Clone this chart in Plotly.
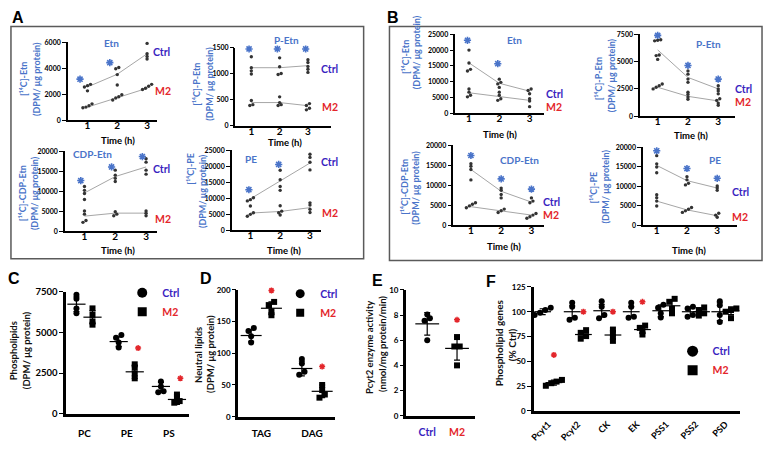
import plotly.graph_objects as go

W, H = 765, 449

# ============================ DATA ============================
TIME = [1, 2, 3]
TIME_LABELS = ["1", "2", "3"]

# ---- Panel A (pulse), one list per time point (1 h, 2 h, 3 h)
A_ETN_CTRL = [[2750, 2650, 2550, 2250], [4050, 3950, 3500, 2700], [5900, 5100, 4900, 4700]]
A_ETN_CTRL_MEAN = [2550, 3530, 5100]
A_ETN_M2 = [[1250, 1100, 1000, 950], [1950, 1800, 1700, 1550], [2750, 2600, 2450, 2350]]
A_ETN_M2_MEAN = [1000, 1750, 2450]
A_ETN_STAR = [3150, 4420, 6370]
A_ETN_TICKS = [0, 2000, 4000, 6000]

A_PETN_CTRL = [[1330, 1120, 1060, 1000], [1310, 1140, 1010, 990], [1275, 1220, 1145, 1090, 1030]]
A_PETN_CTRL_MEAN = [1120, 1120, 1160]
A_PETN_M2 = [[490, 410, 395], [560, 450, 410, 395], [430, 395, 340, 310]]
A_PETN_M2_MEAN = [450, 450, 390]
A_PETN_STAR = [1480, 1480, 1480]
A_PETN_TICKS = [0, 500, 1000, 1500]

A_CDP_CTRL = [[11200, 10250, 9450, 7950], [15300, 14050, 13250, 12450], [18150, 17300, 15300, 14300]]
A_CDP_CTRL_MEAN = [9600, 13700, 16100]
A_CDP_M2 = [[5100, 4300, 2700, 2250], [4900, 4300, 3900], [5100, 4550, 3900]]
A_CDP_M2_MEAN = [3800, 4550, 4550]
A_CDP_STAR = [12700, 16100, 18700]
A_CDP_TICKS = [0, 5000, 10000, 15000, 20000]

A_PE_CTRL = [[10200, 9600, 9200, 7600], [18800, 15800, 13700, 12500], [23800, 22800, 21300, 18900]]
A_PE_CTRL_MEAN = [9850, 15550, 21050]
A_PE_M2 = [[5500, 5000, 4400], [7700, 6000, 5500, 4800], [8600, 7900, 6600, 5600]]
A_PE_M2_MEAN = [5400, 5900, 7100]
A_PE_STAR = [12700, 20600, 25100]
A_PE_TICKS = [0, 5000, 10000, 15000, 20000, 25000]

# ---- Panel B (chase)
B_ETN_CTRL = [[20000, 15900, 13900, 13400], [10800, 9800, 9300, 8200], [7700, 7200, 6200]]
B_ETN_CTRL_MEAN = [15950, 9500, 7000]
B_ETN_M2 = [[7700, 6700, 5700, 5200], [6700, 5700, 4600, 4100], [4600, 3900, 2100]]
B_ETN_M2_MEAN = [6500, 5350, 4100]
B_ETN_STAR = [23100, 15700, None]
B_ETN_TICKS = [0, 5000, 10000, 15000, 20000, 25000]

B_PETN_CTRL = [[7000, 6950, 6900, 5600, 5550, 5200], [4150, 3850, 3400, 3100], [2800, 2500, 2300, 2050]]
B_PETN_CTRL_MEAN = [6070, 3550, 2500]
B_PETN_M2 = [[2950, 2800, 2650, 2500], [2200, 2000, 1750, 1550], [1600, 1450, 1200, 1000]]
B_PETN_M2_MEAN = [2650, 1820, 1400]
B_PETN_STAR = [7400, 4650, 3400]
B_PETN_TICKS = [0, 2500, 5000, 7500]

B_CDP_CTRL = [[15450, 14800, 14000, 11400], [9350, 8800, 7750, 6900], [6900, 6100, 5700]]
B_CDP_CTRL_MEAN = [14000, 8550, 5850]
B_CDP_M2 = [[5700, 5300, 4900, 4450], [4100, 3700, 3250], [3000, 2600, 2200, 1800]]
B_CDP_M2_MEAN = [4700, 3600, 2600]
B_CDP_STAR = [17500, 11650, 9100]
B_CDP_TICKS = [0, 5000, 10000, 15000, 20000]

B_PE_CTRL = [[17900, 15800, 15000, 13500], [12500, 11700, 10800, 10400], [10150, 9600, 9000]]
B_PE_CTRL_MEAN = [15400, 11500, 9600]
B_PE_M2 = [[7900, 7100, 6250, 5000], [4600, 4150, 3750, 3350], [3150, 2650, 2100]]
B_PE_M2_MEAN = [6250, 4000, 2500]
B_PE_STAR = [19150, 14600, 12100]
B_PE_TICKS = [0, 5000, 10000, 15000, 20000]

# ---- Panel C (phospholipids)
C_CATS = ["PC", "PE", "PS"]
C_CTRL = [[7320, 7080, 6480, 6180], [4840, 4680, 4380, 4080], [1980, 1680, 1380, 1320]]
C_CTRL_MEAN = [6740, 4440, 1680]
C_CTRL_SD = [450, 290, 250]
C_M2 = [[6480, 6080, 5680, 5480], [3040, 2840, 2480, 2180], [1180, 980, 780, 680]]
C_M2_MEAN = [5940, 2580, 880]
C_M2_SD = [400, 400, 300]
C_STAR = [None, 4040, 2180]
C_TICKS = [0, 2500, 5000, 7500]

# ---- Panel D (neutral lipids)
D_CATS = ["TAG", "DAG"]
D_CTRL = [[140, 135, 127, 117], [91, 84, 71, 66]]
D_CTRL_MEAN = [128, 76]
D_CTRL_SD = [9, 11.5]
D_M2 = [[181, 176, 166, 160], [50, 42, 35, 30]]
D_M2_MEAN = [171, 40]
D_M2_SD = [10, 10]
D_STAR = [199, 79]
D_TICKS = [0, 50, 100, 150, 200]

# ---- Panel E (Pcyt2 activity)
E_CATS = ["Ctrl", "M2"]
E_VALUES = [[8.05, 7.75, 7.55, 6.0], [6.25, 5.5, 5.5, 4.0]]
E_MEAN = [7.3, 5.35]
E_SD = [0.9, 0.93]
E_STAR = [None, 7.62]
E_TICKS = [0, 2, 4, 6, 8, 10]

# ---- Panel F (phospholipid genes, % Ctrl)
F_CATS = ["Pcyt1", "Pcyt2", "CK", "EK", "PSS1", "PSS2", "PSD"]
F_CTRL = [[104, 101.7, 99, 96.7], [109, 105, 94, 92], [110.5, 105, 96.7, 93.5], [109, 105, 95, 94],
          [107, 104, 98.4, 94.2], [105, 103.3, 96.7, 95], [110.5, 106.6, 96.7, 89.6]]
F_CTRL_MEAN = [100, 100, 101, 100, 101, 100, 100]
F_CTRL_SD = [3, 6, 6.5, 5, 6, 4.5, 9]
F_M2 = [[31.2, 29.5, 27.9, 25.3], [81.4, 78.7, 75.4, 72.8], [82, 78, 74.5, 70.6], [86, 83.7, 80.4, 77],
        [113, 110, 103, 98.4], [104.3, 101.7, 98.4, 96.1], [103.3, 101.7, 100, 93.5]]
F_M2_MEAN = [28.5, 77, 76.5, 82, 106, 100, 101]
F_M2_SD = [2.5, 3.5, 4.5, 3.5, 6, 3.5, 4]
F_STAR = [56.4, 100, 100, 110, None, None, None]
F_TICKS = [0, 25, 50, 75, 100, 125]

# ============================ STYLE ============================
FONT = "Lato"
LETTER_FONT = "Liberation Sans"
BLUE = "#4a74c9"
CTRL_COL = "#3a1fc0"
M2_COL = "#e3262b"
BOX_COL = "#5a5a5a"
LABEL14 = "[\u00b9\u2074C]-"


def px(x):
    return x / W


def py(y):
    return 1 - y / H


def dodge(vals, px_per_unit, size, thr=0.7, step=0.8):
    order = sorted(range(len(vals)), key=lambda i: vals[i])
    offs = [0.0] * len(vals)
    clusters = []
    for i in order:
        if clusters and (vals[i] - vals[clusters[-1][-1]]) * px_per_unit < size * thr:
            clusters[-1].append(i)
        else:
            clusters.append([i])
    for c in clusters:
        n = len(c)
        for j, i in enumerate(c):
            offs[i] = (j - (n - 1) / 2) * size * step
    return offs


fig = go.Figure()
layout = dict(width=W, height=H, margin=dict(l=0, r=0, t=0, b=0), paper_bgcolor="white",
              plot_bgcolor="white", showlegend=True, annotations=[], shapes=[])


def ann(text, x, y, size=10, color="black", angle=0, bold=True, family=FONT):
    layout["annotations"].append(dict(
        text=text, x=px(x), y=py(y), xref="paper", yref="paper", showarrow=False,
        xanchor="center", yanchor="middle", textangle=angle,
        font=dict(size=size, color=color, family=family, weight="bold" if bold else "normal")))


def axes(n, x0, x1, ytop, ybot, xr, yr, yticks, xtickvals, xticktext, lw, ytick_size, xtick_size,
         xticks="outside", xangle=0, xstandoff=None):
    sfx = "" if n == 1 else str(n)
    xa = dict(domain=[px(x0), px(x1)], range=xr, anchor="y" + sfx, showline=True, linecolor="black",
              linewidth=lw, showgrid=False, zeroline=False, ticks=xticks, ticklen=2, tickwidth=1.2,
              tickcolor="black", tickvals=xtickvals, ticktext=xticktext, tickangle=xangle,
              tickfont=dict(family=FONT, size=xtick_size, color="black", weight="bold"), fixedrange=True)
    if xstandoff is not None:
        xa["ticklabelstandoff"] = xstandoff
    ya = dict(domain=[py(ybot), py(ytop)], range=yr, anchor="x" + sfx, showline=True, linecolor="black",
              linewidth=lw, showgrid=False, zeroline=False, ticks="outside", ticklen=3.5, tickwidth=1.2,
              tickcolor="black", tickvals=yticks, ticktext=[str(v) for v in yticks],
              tickfont=dict(family=FONT, size=ytick_size, color="black", weight="bold"), fixedrange=True)
    layout["xaxis" + sfx] = xa
    layout["yaxis" + sfx] = ya
    return "x" + sfx, "y" + sfx


# ---------------- pulse / chase panels (A, B) ----------------
pulse_panels = [
    dict(n=1, title="Etn", lab=LABEL14 + "Etn", c=A_ETN_CTRL, cm=A_ETN_CTRL_MEAN, m=A_ETN_M2,
         mm=A_ETN_M2_MEAN, s=A_ETN_STAR, t=A_ETN_TICKS,
         box=(63, 153, 37, 117), xr=[0.333, 3.333], sdx=-0.25,
         tpos=(107, 38), cpos=(158, 47), mpos=(159, 87), time=(114, 138), l1=(18, 75), l2=(31, 75)),
    dict(n=2, title="P-Etn", lab=LABEL14 + "P-Etn", c=A_PETN_CTRL, cm=A_PETN_CTRL_MEAN, m=A_PETN_M2,
         mm=A_PETN_M2_MEAN, s=A_PETN_STAR, t=A_PETN_TICKS,
         box=(232, 328, 43, 123), xr=[0.44, 3.81], sdx=-0.08,
         tpos=(283, 35), cpos=(327, 65), mpos=(327, 104), time=(282, 140), l1=(192, 80), l2=(205, 80)),
    dict(n=3, title="CDP-Etn", lab=LABEL14 + "CDP-Etn", c=A_CDP_CTRL, cm=A_CDP_CTRL_MEAN, m=A_CDP_M2,
         mm=A_CDP_M2_MEAN, s=A_CDP_STAR, t=A_CDP_TICKS,
         box=(60, 153, 149, 231), xr=[0.355, 3.355], sdx=-0.12,
         tpos=(88, 152), cpos=(158, 167), mpos=(159, 218), time=(114, 251), l1=(17, 192), l2=(29, 192)),
    dict(n=4, title="PE", lab=LABEL14 + "PE", c=A_PE_CTRL, cm=A_PE_CTRL_MEAN, m=A_PE_M2,
         mm=A_PE_M2_MEAN, s=A_PE_STAR, t=A_PE_TICKS,
         box=(228, 318, 148, 230), xr=[0.367, 3.367], sdx=-0.05,
         tpos=(248, 157), cpos=(327, 160), mpos=(327, 212), time=(281, 251), l1=(187, 167), l2=(199, 190)),
    dict(n=5, title="Etn", lab=LABEL14 + "Etn", c=B_ETN_CTRL, cm=B_ETN_CTRL_MEAN, m=B_ETN_M2,
         mm=B_ETN_M2_MEAN, s=B_ETN_STAR, t=B_ETN_TICKS,
         box=(453, 543, 29, 110), xr=[0.54, 3.49], sdx=-0.05,
         tpos=(513, 35), cpos=(553, 90), mpos=(553, 104), time=(498, 132), l1=(403, 52), l2=(415, 47)),
    dict(n=6, title="P-Etn", lab=LABEL14 + "P-Etn", c=B_PETN_CTRL, cm=B_PETN_CTRL_MEAN, m=B_PETN_M2,
         mm=B_PETN_M2_MEAN, s=B_PETN_STAR, t=B_PETN_TICKS,
         box=(639, 735, 29, 113), xr=[0.41, 3.56], sdx=0.0,
         tpos=(708, 39), cpos=(743, 85), mpos=(743, 98), time=(691, 133), l1=(597, 75), l2=(610, 71)),
    dict(n=7, title="CDP-Etn", lab=LABEL14 + "CDP-Etn", c=B_CDP_CTRL, cm=B_CDP_CTRL_MEAN, m=B_CDP_M2,
         mm=B_CDP_M2_MEAN, s=B_CDP_STAR, t=B_CDP_TICKS,
         box=(451, 543, 143, 225), xr=[0.41, 3.43], sdx=0.0,
         tpos=(518, 158), cpos=(550, 201), mpos=(550, 214), time=(502, 247), l1=(402, 185), l2=(413, 186)),
    dict(n=8, title="PE", lab=LABEL14 + "PE", c=B_PE_CTRL, cm=B_PE_CTRL_MEAN, m=B_PE_M2,
         mm=B_PE_M2_MEAN, s=B_PE_STAR, t=B_PE_TICKS,
         box=(642, 737, 145, 225), xr=[0.54, 3.66], sdx=0.0,
         tpos=(715, 158), cpos=(740, 191), mpos=(740, 216), time=(689, 251), l1=(592, 186), l2=(604, 185)),
]

DOT = 3.4
for p in pulse_panels:
    x0, x1, yt, yb = p["box"]
    yr = [0, p["t"][-1]]
    xa, ya = axes(p["n"], x0, x1, yt, yb, p["xr"], yr, p["t"], TIME, TIME_LABELS, 1.8, 7, 10,
                  xticks="", xstandoff=-5)
    upx = (p["xr"][1] - p["xr"][0]) / (x1 - x0)
    ppu = (yb - yt) / (yr[1] - yr[0])
    for grp, mean in ((p["c"], p["cm"]), (p["m"], p["mm"])):
        fig.add_trace(go.Scatter(x=TIME, y=mean, mode="lines", line=dict(color="#a6a6a6", width=1),
                                 xaxis=xa, yaxis=ya, showlegend=False, hoverinfo="skip"))
        xs, ys = [], []
        for t, pts in zip(TIME, grp):
            offs = dodge(pts, ppu, DOT, thr=0.6, step=0.9)
            xs += [t + o * upx for o in offs]
            ys += pts
        fig.add_trace(go.Scatter(x=xs, y=ys, mode="markers", marker=dict(size=DOT, color="#333333"),
                                 xaxis=xa, yaxis=ya, showlegend=False, cliponaxis=False))
    sx = [t + p["sdx"] for t, v in zip(TIME, p["s"]) if v is not None]
    sy = [v for v in p["s"] if v is not None]
    fig.add_trace(go.Scatter(x=sx, y=sy, mode="markers", cliponaxis=False, showlegend=False,
                             marker=dict(symbol="asterisk-open", size=6, color=BLUE,
                                         line=dict(color=BLUE, width=1.6)),
                             xaxis=xa, yaxis=ya))
    ann(p["title"], *p["tpos"], size=10, color=BLUE)
    ann("Ctrl", *p["cpos"], size=10.5, color=CTRL_COL)
    ann("M2", *p["mpos"], size=10.5, color=M2_COL)
    ann("Time (h)", *p["time"], size=9.5)
    ann(p["lab"], *p["l1"], size=9, color=BLUE, angle=-90)
    ann("(DPM/ \u03bcg protein)", *p["l2"], size=9, color=BLUE, angle=-90)

# panel frames
layout["shapes"].append(dict(type="rect", xref="paper", yref="paper", x0=px(6), x1=px(361), y0=py(259),
                             y1=py(21), line=dict(color=BOX_COL, width=1.5)))
layout["shapes"].append(dict(type="rect", xref="paper", yref="paper", x0=px(387), x1=px(762), y0=py(261),
                             y1=py(21), line=dict(color=BOX_COL, width=1.5)))

# ---------------- scatter + mean/SD panels (C-F) ----------------
PT = 6


def group_traces(xa, ya, centers, vals, means, sds, symbol, upx, ppu, barw):
    xs, ys = [], []
    for c, pts in zip(centers, vals):
        offs = dodge(pts, ppu, PT, thr=0.55, step=0.9)
        xs += [c + o * upx for o in offs]
        ys += pts
    fig.add_trace(go.Scatter(x=xs, y=ys, mode="markers", marker=dict(symbol=symbol, size=PT, color="black"),
                             xaxis=xa, yaxis=ya, showlegend=False, cliponaxis=False))
    fig.add_trace(go.Scatter(x=centers, y=means, mode="markers", showlegend=False, hoverinfo="skip",
                             marker=dict(symbol="line-ew", size=barw, color="black",
                                         line=dict(width=1.2, color="black")),
                             error_y=dict(type="data", array=sds, visible=True, width=3, thickness=1.2,
                                          color="black"),
                             xaxis=xa, yaxis=ya, cliponaxis=False))


def stars(xa, ya, xs, vals):
    sx = [x for x, v in zip(xs, vals) if v is not None]
    sy = [v for v in vals if v is not None]
    fig.add_trace(go.Scatter(x=sx, y=sy, mode="markers", cliponaxis=False, showlegend=False,
                             marker=dict(symbol="asterisk-open", size=5, color=M2_COL,
                                         line=dict(color=M2_COL, width=1.5)),
                             xaxis=xa, yaxis=ya))


def legend_entries(xa, ya, legend_id, size):
    fig.add_trace(go.Scatter(x=[None], y=[None], mode="markers", xaxis=xa, yaxis=ya, legend=legend_id,
                             marker=dict(symbol="circle", size=size, color="black"),
                             name=f"<span style='color:{CTRL_COL}'>Ctrl</span>"))
    fig.add_trace(go.Scatter(x=[None], y=[None], mode="markers", xaxis=xa, yaxis=ya, legend=legend_id,
                             marker=dict(symbol="square", size=size - 1, color="black"),
                             name=f"<span style='color:{M2_COL}'>M2</span>"))


def legend_box(x, y):
    return dict(x=px(x), y=py(y), xanchor="left", yanchor="top", bgcolor="rgba(0,0,0,0)",
                font=dict(family=FONT, size=10.5, weight="bold"), itemsizing="trace", tracegroupgap=0)


# C
cx = [i + 1 for i in range(len(C_CATS))]
xa, ya = axes(9, 61, 185, 293, 418, [0.553, 3.47], [0, C_TICKS[-1]], C_TICKS, cx, C_CATS, 2.5, 9.5, 10,
              xticks="", xstandoff=8)
upx = (3.47 - 0.553) / (185 - 61)
ppu = 125 / C_TICKS[-1]
off = 0.19
group_traces(xa, ya, [c - off for c in cx], C_CTRL, C_CTRL_MEAN, C_CTRL_SD, "circle", upx, ppu, 13)
group_traces(xa, ya, [c + off for c in cx], C_M2, C_M2_MEAN, C_M2_SD, "square", upx, ppu, 13)
stars(xa, ya, [c + off + 0.08 for c in cx], C_STAR)
legend_entries(xa, ya, "legend", 10)
layout["legend"] = legend_box(118, 279)
ann("Phospholipids", 8, 353, size=9.5, color="#111", angle=-90)
ann("(DPM/ \u03bcg protein)", 21, 353, size=9.5, color="#111", angle=-90)

# D
dx = [i + 1 for i in range(len(D_CATS))]
xa, ya = axes(10, 235, 332, 291, 421, [0.55, 2.45], [0, D_TICKS[-1]], D_TICKS, dx, D_CATS, 2.5, 8, 10,
              xticks="", xstandoff=6)
upx = (2.45 - 0.55) / (332 - 235)
ppu = 130 / D_TICKS[-1]
off = 0.2
group_traces(xa, ya, [c - off for c in dx], D_CTRL, D_CTRL_MEAN, D_CTRL_SD, "circle", upx, ppu, 15)
group_traces(xa, ya, [c + off for c in dx], D_M2, D_M2_MEAN, D_M2_SD, "square", upx, ppu, 15)
stars(xa, ya, [c + off for c in dx], D_STAR)
legend_entries(xa, ya, "legend2", 9)
layout["legend2"] = legend_box(277, 280)
ann("Neutral lipids", 194, 358, size=9.5, color="#111", angle=-90)
ann("(DPM/ \u03bcg protein)", 207, 357, size=9.5, color="#111", angle=-90)

# E
ex = [i + 1 for i in range(len(E_CATS))]
etext = [f"<span style='color:{CTRL_COL}'>{E_CATS[0]}</span>", f"<span style='color:{M2_COL}'>{E_CATS[1]}</span>"]
xa, ya = axes(11, 404, 473, 291, 420, [0.3, 2.6], [0, E_TICKS[-1]], E_TICKS, ex, etext, 2.5, 8, 10.5,
              xticks="", xstandoff=5)
upx = 2.3 / (473 - 404)
ppu = 129 / E_TICKS[-1]
for i, sym in enumerate(["circle", "square"]):
    group_traces(xa, ya, [ex[i]], [E_VALUES[i]], [E_MEAN[i]], [E_SD[i]], sym, upx, ppu, 17)
stars(xa, ya, ex, E_STAR)
ann("Pcyt2 enzyme activity", 367, 350, size=9.5, color="#111", angle=-90)
ann("(nmol/mg protein/min)", 380, 347, size=9.5, color="#111", angle=-90)

# F
fx = [i + 1 for i in range(len(F_CATS))]
xa, ya = axes(12, 532, 740, 288, 415, [0.5, 7.5], [0, F_TICKS[-1]], F_TICKS, fx, F_CATS, 2.5, 8, 9,
              xticks="", xangle=-45, xstandoff=2)
upx = 7.0 / (740 - 532)
ppu = 127 / F_TICKS[-1]
off = 0.19
group_traces(xa, ya, [c - off for c in fx], F_CTRL, F_CTRL_MEAN, F_CTRL_SD, "circle", upx, ppu, 12)
group_traces(xa, ya, [c + off for c in fx], F_M2, F_M2_MEAN, F_M2_SD, "square", upx, ppu, 12)
stars(xa, ya, [c + off for c in fx], F_STAR)
legend_entries(xa, ya, "legend3", 11)
layout["legend3"] = legend_box(672, 339)
ann("Phospholipid genes", 497, 345, size=10, color="#111", angle=-90)
ann("(% Ctrl)", 511, 347, size=10, color="#111", angle=-90)

# panel letters
for letter, x, y in (("A", 13, 12), ("B", 391, 12), ("C", 9, 279), ("D", 202, 279), ("E", 375, 281),
                     ("F", 489, 282)):
    ann(letter, x, y, size=16, family=LETTER_FONT)

fig.update_layout(**layout)
fig.write_html("out.html", config={"displayModeBar": False},
               post_script="document.body.style.margin='0';document.body.style.overflow='hidden';")
